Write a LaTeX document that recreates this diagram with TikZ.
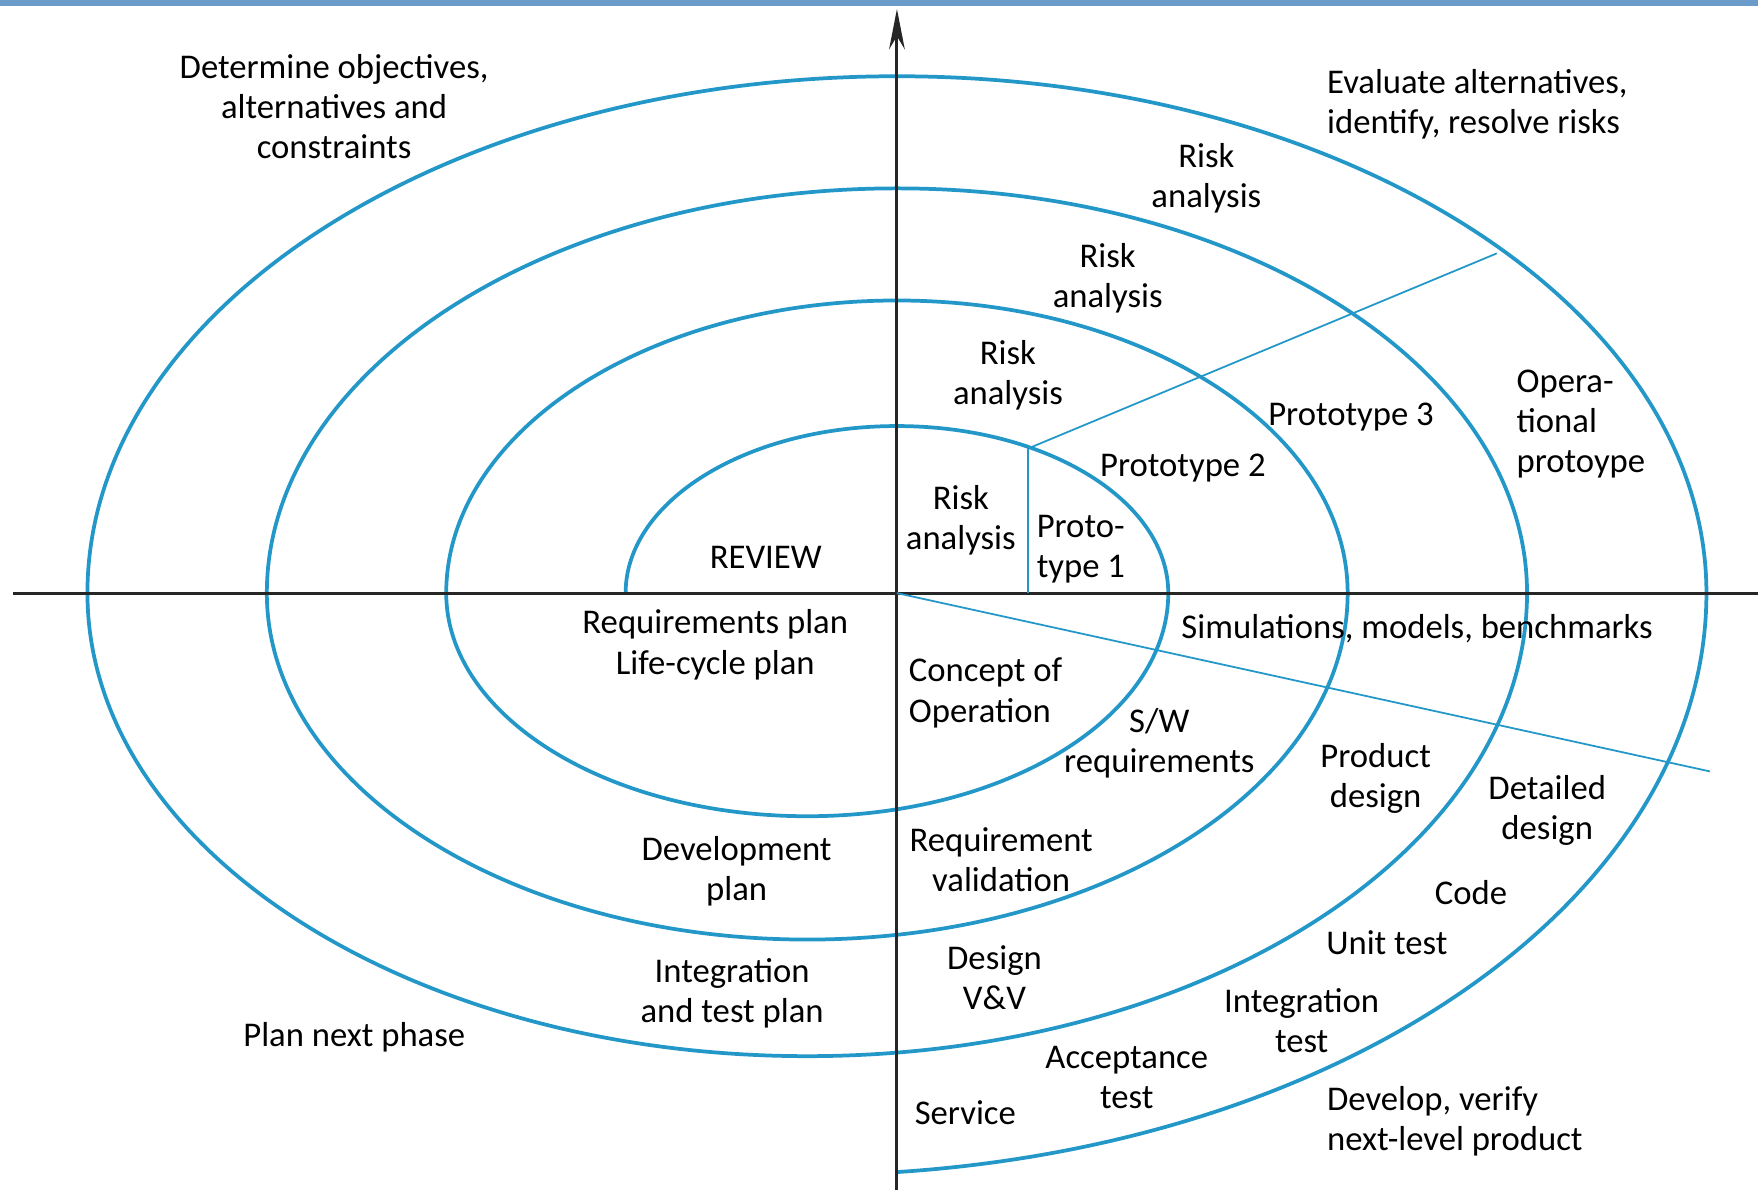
\documentclass[tikz,border=0pt]{standalone}
\usepackage{fontspec}
\setmainfont{Carlito}
\usetikzlibrary{arrows.meta}
\definecolor{spiralblue}{RGB}{35,152,200}
\definecolor{barblue}{RGB}{106,155,203}

\begin{document}
\begin{tikzpicture}

      \tikzset{lbl/.style={inner sep=0pt, align=center, font=\fontsize{8.8}{10.2}\selectfont},
               lbll/.style={lbl, align=left, anchor=west},
               spiral/.style={draw=spiralblue, line width=0.95pt},
               divider/.style={draw=spiralblue, line width=0.45pt},
               axisline/.style={draw=black!85, line width=0.75pt}}
      \useasboundingbox (-8.00,-5.32) rectangle (7.68,5.29);
      \fill[barblue] (-8.00,5.235) rectangle (7.68,5.29);
% Points
      	\coordinate (o) at (0,0);
      	\coordinate (top) at (0,5.21);
      	\coordinate (bot) at (0,-5.32);
      	\coordinate (left) at (-7.88,0);
      	\coordinate (right) at (7.68,0);
      	\coordinate (p0) at (1.17,0);
      	\coordinate (p1) at (1.17,1.29);
      	\coordinate (p4) at (5.35,3.03);
      	\coordinate (q) at (7.25,-1.59);
% Spiral
      	\draw[spiral] (-2.42,0)
      		arc[start angle=180, end angle=0, x radius=2.42, y radius=1.49]
      		arc[start angle=0, end angle=-180, x radius=3.22, y radius=1.99]
      		arc[start angle=180, end angle=0, x radius=4.02, y radius=2.61]
      		arc[start angle=0, end angle=-180, x radius=4.82, y radius=3.09]
      		arc[start angle=180, end angle=0, x radius=5.62, y radius=3.61]
      		arc[start angle=0, end angle=-180, x radius=6.42, y radius=4.13]
      		arc[start angle=180, end angle=0, x radius=7.22, y radius=4.61]
      		arc[start angle=0, end angle=-84.27, x radius=8.02, y radius=5.19];
% Axes
      	\draw[axisline] (left) -- (right);
      	\draw[axisline, -{Stealth[length=3.6mm, width=1.4mm]}] (bot) -- (top);
	%Dividers
      	\path[divider] (p0) edge (p1);
      	\path[divider] (p1) edge (p4);
      	\path[divider] (o) edge (q);
% Labels
	%Upper left
      	\node[lbl] (dete) at (-5.02,4.34) {Determine objectives,\\alternatives and\\constraints};
      	\node[lbl] (review) at (-1.17,0.32) {REVIEW};
	%Upper right
      	\node[lbll] (eval) at (3.83,4.36) {Evaluate alternatives,\\identify, resolve risks};
      	\node[lbl] (risk4) at (2.76,3.70) {Risk\\analysis};
      	\node[lbl] (risk3) at (1.88,2.81) {Risk\\analysis};
      	\node[lbl] (risk2) at (0.99,1.94) {Risk\\analysis};
      	\node[lbl] (risk1) at (0.57,0.65) {Risk\\analysis};
      	\node[lbll] (proto1) at (1.24,0.39) {Proto-\\type 1};
      	\node[lbl] (proto2) at (2.55,1.12) {Prototype 2};
      	\node[lbl] (proto3) at (4.05,1.57) {Prototype 3};
      	\node[lbll] (opproto) at (5.52,1.51) {Opera-\\tional\\protoype};
	%Lower left
      	\node[lbl] (reqplan) at (-1.62,-0.46) {Requirements plan\\Life-cycle plan};
      	\node[lbl] (devplan) at (-1.43,-2.48) {Development\\plan};
      	\node[lbl] (itplan) at (-1.47,-3.57) {Integration\\and test plan};
      	\node[lbl] (plannext) at (-4.84,-3.96) {Plan next phase};
	%Lower right
      	\node[lbl] (simul) at (4.64,-0.32) {Simulations, models, benchmarks};
      	\node[lbll] (concept) at (0.10,-0.89) {Concept of\\Operation};
      	\node[lbl] (swreq) at (2.34,-1.34) {S/W\\requirements};
      	\node[lbl] (product) at (4.27,-1.65) {Product\\design};
      	\node[lbl] (detailed) at (5.80,-1.94) {Detailed\\design};
      	\node[lbl] (reqval) at (0.93,-2.38) {Requirement\\validation};
      	\node[lbl] (code) at (5.12,-2.67) {Code};
      	\node[lbl] (unit) at (4.37,-3.12) {Unit test};
      	\node[lbl] (designvv) at (0.87,-3.43) {Design\\V\&V};
      	\node[lbl] (inttest) at (3.61,-3.81) {Integration\\test};
      	\node[lbl] (accept) at (2.05,-4.32) {Acceptance\\test};
      	\node[lbl] (service) at (0.61,-4.63) {Service};
      	\node[lbll] (develop) at (3.83,-4.71) {Develop, verify\\next-level product};

	\end{tikzpicture}
\end{document}
